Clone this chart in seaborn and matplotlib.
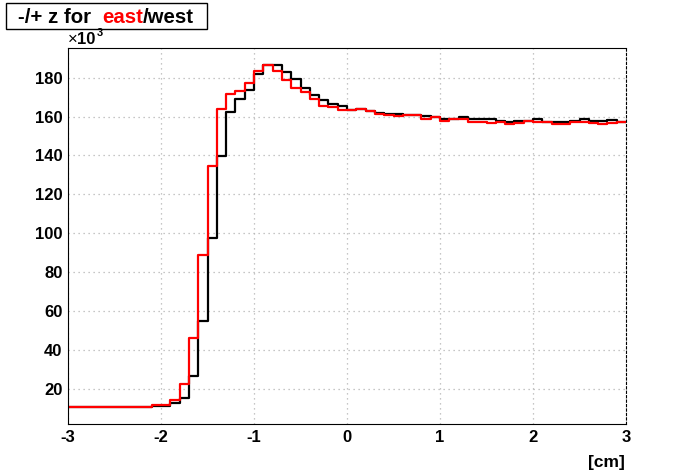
import numpy as np
import matplotlib
matplotlib.use("Agg")
import matplotlib.pyplot as plt
import seaborn as sns
from matplotlib.ticker import MultipleLocator
from matplotlib.patches import Rectangle

# histogram binning: 60 bins of 0.1 cm between -3 and 3
z_lo, z_hi, n_bins = -3.0, 3.0, 60

# bin contents in units of 10^3 entries
# black histogram (west)
west_k = [10.9, 10.9, 10.9, 10.9, 10.9, 10.9, 10.9, 10.9, 10.9,
          11.1, 11.2, 12.8, 15.4, 26.5, 54.7, 97.6, 139.7, 162.2, 169.2,
          173.5, 181.7, 186.3, 186.3, 182.9, 179.5, 174.7, 170.9, 168.4, 166.5,
          165.6, 163.2, 163.6, 162.7, 161.8, 161.3, 161.3, 161.0, 160.8, 160.3,
          160.0, 158.6, 158.8, 159.8, 158.8, 158.8, 158.8, 157.6, 157.2, 157.7,
          157.7, 158.6, 157.4, 157.4, 157.4, 157.7, 158.6, 157.6, 157.6, 158.0,
          157.2]
# red histogram (east)
east_k = [10.9, 10.9, 10.9, 10.9, 10.9, 10.9, 10.9, 10.9, 10.9,
          11.6, 11.6, 14.4, 22.7, 46.2, 88.9, 134.6, 163.7, 171.6, 173.0,
          177.4, 183.6, 186.5, 183.4, 178.6, 174.7, 172.6, 169.0, 165.5, 164.9,
          163.4, 163.2, 163.6, 162.7, 161.5, 161.0, 160.2, 160.7, 160.7, 158.6,
          160.0, 157.7, 158.8, 158.8, 157.1, 157.1, 156.6, 157.1, 156.2, 156.8,
          157.7, 157.4, 157.4, 156.4, 156.4, 157.1, 157.4, 156.7, 156.2, 156.6,
          157.2]

x_ticks = [-3, -2, -1, 0, 1, 2, 3]
y_ticks = [20, 40, 60, 80, 100, 120, 140, 160, 180]

sns.set_style("white")
plt.rcParams['font.family'] = ['Liberation Sans', 'DejaVu Sans']
plt.rcParams['axes.unicode_minus'] = False
plt.rcParams['text.color'] = 'black'
plt.rcParams['xtick.color'] = 'black'
plt.rcParams['ytick.color'] = 'black'

W, H = 696, 472
fig = plt.figure(figsize=(W / 100, H / 100), dpi=100)
ax = fig.add_axes([68 / W, 1 - 424 / H, (626 - 68) / W, (424 - 48) / H])

# bin centres so that every entry lands in its own bin
width = (z_hi - z_lo) / n_bins
centres = z_lo + width * (np.arange(n_bins) + 0.5)

sns.histplot(x=centres, weights=west_k, bins=n_bins, binrange=(z_lo, z_hi),
             element="step", fill=False, color="black", linewidth=1.6, ax=ax)
sns.histplot(x=centres, weights=east_k, bins=n_bins, binrange=(z_lo, z_hi),
             element="step", fill=False, color="#ff0000", linewidth=1.6, ax=ax)

ax.set_xlim(z_lo, z_hi)
ax.set_ylim(2.0, 195.2)
ax.set_xlabel("")
ax.set_ylabel("")

ax.set_xticks(x_ticks)
ax.set_yticks(y_ticks)
ax.xaxis.set_minor_locator(MultipleLocator(0.2))
ax.yaxis.set_minor_locator(MultipleLocator(5))
ax.tick_params(axis="x", which="major", direction="in", length=8.1, width=0.8,
               pad=4, labelsize=12, colors="black")
ax.tick_params(axis="x", which="minor", direction="in", length=4.0, width=0.8,
               colors="black")
ax.tick_params(axis="y", which="major", direction="in", length=12.2, width=0.8,
               pad=4, labelsize=12, colors="black")
ax.tick_params(axis="y", which="minor", direction="in", length=6.1, width=0.8,
               colors="black")
for lab in ax.get_xticklabels() + ax.get_yticklabels():
    lab.set_fontweight("bold")

ax.grid(True, which="major", linestyle=(0, (1, 3)), color="#b4b4b4", linewidth=0.9)
ax.set_axisbelow(True)

for side in ["left", "bottom", "top"]:
    ax.spines[side].set_color("black")
    ax.spines[side].set_linewidth(0.8)
ax.spines["right"].set_color("black")
ax.spines["right"].set_linestyle((0, (2, 2)))
ax.spines["right"].set_linewidth(0.8)

# exponent label of the y axis and unit of the x axis
fig.text(68 / W, 1 - 44 / H, "\u00d7", fontsize=12, ha="left", va="baseline")
fig.text(77 / W, 1 - 44 / H, "10", fontsize=12, fontweight="bold",
         ha="left", va="baseline")
fig.text(96.5 / W, 1 - 36 / H, "3", fontsize=8, fontweight="bold",
         ha="left", va="baseline")
fig.text(625 / W, 1 - 467 / H, "[cm]", fontsize=12.5, fontweight="bold",
         ha="right", va="baseline")

# title box with a coloured word
fig.patches.append(Rectangle((6 / W, 1 - 29 / H), 201 / W, 26 / H,
                             transform=fig.transFigure, facecolor="white",
                             edgecolor="black", linewidth=1.0))
parts = [("-/+ z for  ", "black"), ("east", "#ff0000"), ("/west", "black")]
renderer = fig.canvas.get_renderer()
x_px = 18
for txt, col in parts:
    t = fig.text(x_px / W, 1 - 23 / H, txt, fontsize=14.7, fontweight="bold",
                 color=col, ha="left", va="baseline")
    x_px += t.get_window_extent(renderer).width

fig.savefig("out.png", dpi=100)
